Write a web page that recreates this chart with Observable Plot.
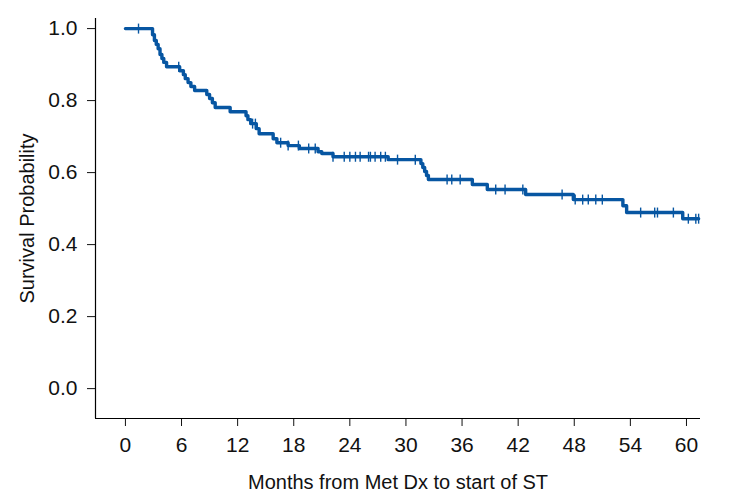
<!DOCTYPE html>
<html>
<head>
<meta charset="utf-8">
<script src="https://cdn.jsdelivr.net/npm/d3@7"></script>
<script src="https://cdn.jsdelivr.net/npm/@observablehq/plot@0.6"></script>
<style>
  html, body { margin: 0; padding: 0; background: #fff; }
  svg { font-family: "Liberation Sans", Arial, sans-serif; }
  g[aria-label="x-axis tick label"], g[aria-label="y-axis tick label"] { font-size: 21px; }
  g[aria-label="x-axis label"], g[aria-label="y-axis label"] { font-size: 20px; }
</style>
</head>
<body>
<div id="chart"></div>
<script>
// Kaplan–Meier step function: event times (months) and survival after each step
const times = [0, 2.9, 3.1, 3.3, 3.5, 3.7, 3.9, 4.1, 4.4, 5.8, 6.2, 6.4, 6.7, 7.0, 7.4, 8.7, 9.0, 9.3, 9.6,
  11.2, 12.9, 13.1, 13.4, 14.0, 14.3, 15.8, 16.2, 17.4, 18.6, 20.6, 21.0, 22.2, 28.1, 31.6, 31.8, 32.0, 32.2, 32.4,
  37.1, 38.7, 42.8, 47.9, 53.2, 53.6, 59.6, 61.3];
const survival = [1.0, 0.983, 0.967, 0.956, 0.944, 0.928, 0.917, 0.906, 0.894, 0.883, 0.872, 0.861, 0.850, 0.839, 0.828, 0.817, 0.806, 0.794, 0.781,
  0.769, 0.758, 0.747, 0.736, 0.722, 0.708, 0.694, 0.683, 0.675, 0.667, 0.658, 0.653, 0.644, 0.636, 0.625, 0.614, 0.603, 0.592, 0.581,
  0.567, 0.553, 0.539, 0.525, 0.508, 0.489, 0.472, 0.472];
// censored observation times (months)
const censorTimes = [1.4, 5.7, 13.6, 13.9, 16.6, 17.4, 18.5, 19.6, 20.3, 22.2, 23.4, 24.0, 24.6, 25.1, 26.0, 26.2, 26.7, 27.3, 27.8,
  29.1, 31.0, 34.4, 34.9, 35.8, 39.6, 40.6, 42.5, 46.7, 48.1, 48.9, 49.5, 50.3, 51.0, 55.1, 56.6, 56.9, 58.6, 60.2, 61.0, 61.3];
const xTicks = [0, 6, 12, 18, 24, 30, 36, 42, 48, 54, 60];
const yTicks = [0.0, 0.2, 0.4, 0.6, 0.8, 1.0];
const xLabel = "Months from Met Dx to start of ST";
const yLabel = "Survival Probability";

const steps = times.map((t, i) => ({t, s: survival[i]}));
function survAt(t) {
  let s = 1;
  for (const d of steps) { if (d.t <= t) s = d.s; else break; }
  return s;
}
const censors = censorTimes.map(t => ({t, s: survAt(t)}));

const vbar = {
  draw(context, size) {
    const h = Math.sqrt(size / Math.PI);
    context.moveTo(0, -h);
    context.lineTo(0, h);
  }
};

const xDom = [-3.2, 61.5];
const yDom = [-0.083, 1.028];
const color = "#0756a2";

const chart = Plot.plot({
  width: 729,
  height: 496,
  marginLeft: 95,
  marginRight: 29,
  marginTop: 18,
  marginBottom: 78,
  style: {fontFamily: "'Liberation Sans', Arial, sans-serif", fontSize: "20px", color: "#111"},
  x: {domain: xDom, ticks: xTicks},
  y: {domain: yDom, ticks: yTicks},
  marks: [
    Plot.axisX({ticks: xTicks, tickSize: 8, tickPadding: 11, label: xLabel, labelAnchor: "center", labelArrow: "none", labelOffset: 70}),
    Plot.axisY({ticks: yTicks, tickSize: 8, tickPadding: 10, tickFormat: d3.format(".1f"), label: yLabel, labelAnchor: "center", labelArrow: "none", labelOffset: 76}),
    Plot.ruleX([xDom[0]], {stroke: "#000", strokeWidth: 1.2}),
    Plot.ruleY([yDom[0]], {stroke: "#000", strokeWidth: 1.2}),
    Plot.line(steps, {x: "t", y: "s", curve: "step-after", stroke: color, strokeWidth: 3.4}),
    Plot.dot(censors, {x: "t", y: "s", symbol: vbar, r: 5, stroke: color, strokeWidth: 1.4, fill: "none"})
  ]
});
document.getElementById("chart").appendChild(chart);
</script>
</body>
</html>
